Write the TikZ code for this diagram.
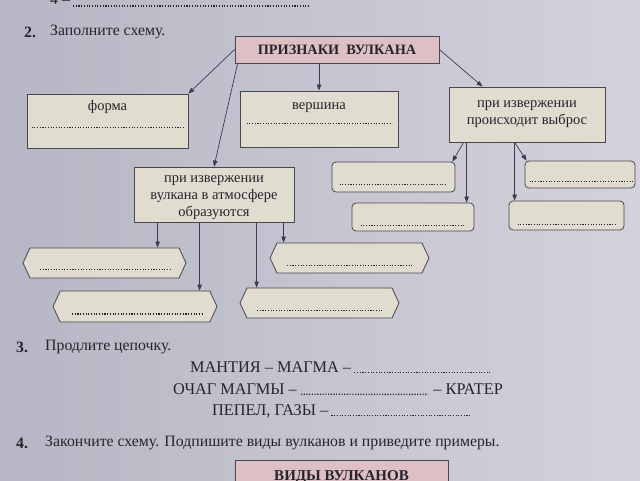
\documentclass[tikz,border=0pt]{standalone}
\usepackage{fontspec}
\setmainfont{Liberation Serif}
\usepackage{xcolor}
\definecolor{pagegray}{RGB}{182,182,196}
\definecolor{pagelight}{RGB}{212,210,220}
\definecolor{boxfill}{RGB}{224,220,208}
\definecolor{headfill}{RGB}{222,192,196}
\definecolor{boxline}{RGB}{72,70,78}
\definecolor{linkcol}{RGB}{62,58,84}
\definecolor{inkcol}{RGB}{38,36,44}
\usepackage{tikz}
\usetikzlibrary{arrows.meta, positioning, shapes.symbols, calc}
\newcommand\txt{\fontsize{14.5}{17}\selectfont}
\newcommand\bodytxt{\fontsize{15.8}{18}\selectfont}
\newcommand\chaintxt{\fontsize{16.3}{18}\selectfont}

\tikzset{
  lbl/.style={font=\bodytxt, text=inkcol, inner sep=0pt, align=center},
  box/.style={draw=boxline, fill=boxfill, line width=0.8pt, inner sep=0pt,
    font=\txt, text=inkcol, align=center},
  headbox/.style={box, fill=headfill, font=\fontsize{14.3}{16}\selectfont\bfseries},
  slot/.style={box, rounded corners=4pt},
  hexslot/.style={box, shape=signal, signal to=west and east, signal pointer angle=130},
  link/.style={-{Triangle[length=6pt,width=4.5pt]}, line width=0.7pt, draw=linkcol},
  fillin/.style={line width=1.3pt, dash pattern=on 1.1pt off 1.6pt, draw=inkcol},
}

\begin{document}
\begin{tikzpicture}[x=1pt, y=-1pt]
  \shade[left color=pagegray, right color=pagelight] (0,0) rectangle (640,480);
  \useasboundingbox (0,0) rectangle (640,480);

  % end of exercise 1 (cut off at the top)
  \node[lbl, anchor=west] (prevline) at (50,-1) {4 –};
  \draw[fillin] (73,6) -- (310,6);

  % exercise 2
  \node[lbl, font=\bodytxt\bfseries, anchor=west] (numtwo) at (24,32) {2.};
  \node[lbl, anchor=west] (tasktwo) at (50,32) {Заполните схему.};

  \node[headbox, minimum width=204, minimum height=27] (signs) at (337,49.5) {ПРИЗНАКИ\ \ ВУЛКАНА};

  % shape
  \node[box, minimum width=161, minimum height=54] (form) at (107.5,121) {};
  \node[lbl, font=\txt, below=6.5pt of form.north] (formT) {форма};
  \draw[fillin] ([xshift=5,yshift=21]form.south west) -- ([xshift=-5,yshift=21]form.south east);

  % summit
  \node[box, minimum width=158, minimum height=56] (summit) at (319,119) {};
  \node[lbl, font=\txt, below=12pt of summit.north] (summitT) {вершина};
  \draw[fillin] ([xshift=7,yshift=24]summit.south west) -- ([xshift=-6,yshift=24]summit.south east);

  % ejected material
  \node[box, minimum width=156, minimum height=55] (eject) at (527,114.5)
    {при извержении\\происходит выброс};
  \node[slot, minimum width=123, minimum height=30] (ejA) at (393.5,177) {};
  \node[slot, minimum width=122, minimum height=28] (ejB) at (413,217) {};
  \node[slot, minimum width=110, minimum height=27] (ejC) at (580,174.5) {};
  \node[slot, minimum width=115, minimum height=29] (ejD) at (566.5,215.5) {};
  \draw[fillin] ([xshift=8,yshift=8]ejA.south west) -- ([xshift=-8,yshift=8]ejA.south east);
  \draw[fillin] ([xshift=9,yshift=6]ejB.south west) -- ([xshift=-9,yshift=6]ejB.south east);
  \draw[fillin] ([xshift=5,yshift=7]ejC.south west) -- ([xshift=-3,yshift=7]ejC.south east);
  \draw[fillin] ([xshift=9,yshift=6]ejD.south west) -- ([xshift=-9,yshift=6]ejD.south east);

  % gases in the atmosphere
  \node[box, minimum width=160, minimum height=55] (atmos) at (214,194.5)
    {\fontsize{14.5}{16.5}\selectfont\rule{0pt}{13pt}при извержении\\вулкана в атмосфере\\образуются};
  \node[hexslot, minimum width=163, minimum height=30] (ashA) at (104.5,263) {};
  \node[hexslot, minimum width=164, minimum height=31] (ashB) at (135,306.5) {};
  \node[hexslot, minimum width=159, minimum height=30] (ashC) at (349.5,258) {};
  \node[hexslot, minimum width=159, minimum height=30] (ashD) at (319.5,303) {};
  \draw[fillin] ([xshift=-64.5,yshift=9]ashA.south) -- ([xshift=67.5,yshift=9]ashA.south);
  \draw[fillin] ([xshift=-63,yshift=8.5]ashB.south) -- ([xshift=67,yshift=8.5]ashB.south);
  \draw[fillin] ([xshift=-62.5,yshift=8]ashC.south) -- ([xshift=63.5,yshift=8]ashC.south);
  \draw[fillin] ([xshift=-62.5,yshift=8]ashD.south) -- ([xshift=63.5,yshift=8]ashD.south);

  % arrows
  \draw[link] (signs.west) -- (form.north east);
  \draw[link] ([xshift=3]signs.south west) -- (atmos.north);
  \draw[link] (signs.south -| summit.north) -- (summit.north);
  \draw[link] (signs.east) -- ([xshift=34]eject.north west);

  \draw[link] ([xshift=15]eject.south west) -- ([xshift=-3]ejA.north east);
  \coordinate (ejL) at ([xshift=18]eject.south west);
  \draw[link] (ejL) -- (ejL |- ejB.north);
  \draw[link] ([xshift=66]eject.south west) -- ([xshift=2]ejC.north west);
  \coordinate (ejR) at ([xshift=66]eject.south west);
  \draw[link] (ejR) -- (ejR |- ejD.north);

  \foreach \dx/\dest in {24/ashA, 66/ashB, 123/ashD, 150/ashC} {
    \coordinate (from) at ([xshift=\dx]atmos.south west);
    \draw[link] (from) -- (from |- \dest.north);
  }

  % exercise 3
  \node[lbl, font=\bodytxt\bfseries, anchor=west] (numthree) at (16,347) {3.};
  \node[lbl, anchor=west] (taskthree) at (45,347) {Продлите цепочку.};
  \node[lbl, font=\chaintxt, anchor=west] (chainA) at (190,367) {МАНТИЯ – МАГМА –};
  \draw[fillin] ([xshift=3]chainA.base east) -- (490,0 |- chainA.base);
  \node[lbl, font=\chaintxt, anchor=west] (hearth) at (173,389) {ОЧАГ МАГМЫ –};
  \node[lbl, font=\chaintxt, anchor=east] (crater) at (503,389) {– КРАТЕР};
  \draw[fillin] ([xshift=4]hearth.base east) -- ([xshift=-5]crater.base west);
  \node[lbl, font=\chaintxt, anchor=west] (ash) at (212,411) {ПЕПЕЛ, ГАЗЫ –};
  \draw[fillin] ([xshift=3]ash.base east) -- (470,0 |- ash.base);

  % exercise 4
  \node[lbl, font=\bodytxt\bfseries, anchor=west] (numfour) at (16,443) {4.};
  \node[lbl, anchor=west] (taskfour) at (45,443) {Закончите схему. Подпишите виды вулканов и приведите примеры.};
  \node[headbox, font=\fontsize{15}{16}\selectfont\bfseries, minimum width=213, minimum height=34] (kinds) at (341.5,477) {ВИДЫ ВУЛКАНОВ};
\end{tikzpicture}
\end{document}
